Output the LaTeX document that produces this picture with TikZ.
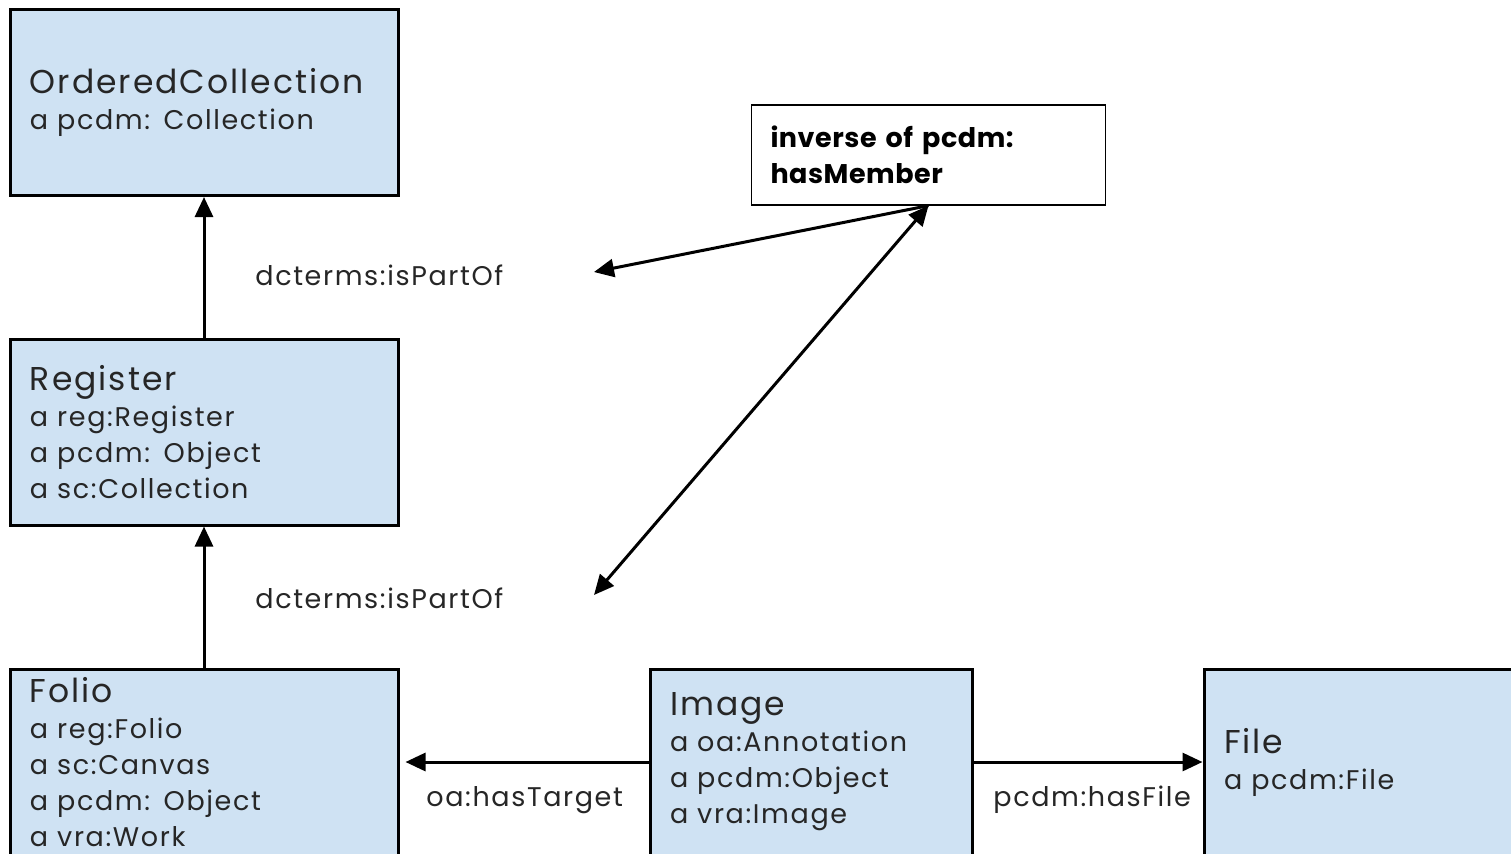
\documentclass[tikz,border=0pt]{standalone}
\usepackage{fontspec}
\setmainfont{Poppins}[LetterSpace=6, BoldFeatures={LetterSpace=2}]
\usepackage{xcolor}
\usepackage{tikz}
\usetikzlibrary{positioning}
\usetikzlibrary{arrows.meta}
\definecolor{boxblue}{HTML}{CFE2F3}
\definecolor{inkgray}{HTML}{262626}
\newcommand{\boxtitle}{\fontsize{16.5}{18}\selectfont}
\tikzset{
  classbox/.style={draw=black, line width=1.5pt, fill=boxblue, text=inkgray,
    align=left, inner xsep=10pt, minimum height=93pt,
    font=\fontsize{13.5}{18}\selectfont},
  notebox/.style={draw=black, line width=0.6pt, fill=white, text=black,
    align=left, inner xsep=9.5pt, text width=158pt, minimum height=50pt,
    font=\fontsize{13.5}{18}\selectfont\bfseries},
  edgelabel/.style={anchor=west, text=inkgray, inner sep=0pt,
    font=\fontsize{13.5}{18}\selectfont},
  arrowline/.style={line width=1.5pt, -{Triangle[length=10pt,width=9pt]}},
  bothline/.style={line width=1.5pt, {Triangle[length=10pt,width=9pt]}-{Triangle[length=10pt,width=9pt]}}
}
\begin{document}
\begin{tikzpicture}[x=0.5pt,y=-0.5pt]
        \clip (0,0) rectangle (1511,853);
        \fill[white] (0,0) rectangle (1511,853);

        % Left column (collection, register, folio)
        \node[classbox, text width=174pt] (coll) at (204,102.5) {{\boxtitle OrderedCollection}\\ a pcdm: Collection};
        \node[classbox, text width=174pt] (reg) at (204,432) {{\boxtitle Register}\\ a reg:Register\\ a pcdm: Object\\ a sc:Collection};
        \node[classbox, text width=174pt] (folio) at (204,762) {{\boxtitle Folio}\\ a reg:Folio\\ a sc:Canvas\\ a pcdm: Object\\ a vra:Work};

        % Bottom row (image, file)
        \node[classbox, text width=141pt] (img) at (811,762) {{\boxtitle Image}\\ a oa:Annotation\\ a pcdm:Object\\ a vra:Image};
        \node[classbox, text width=170pt] (file) at (1394,762) {{\boxtitle File}\\ a pcdm:File};

        % Note box
        \node[notebox] (inv) at (928.5,155) {inverse of pcdm:\\ hasMember};

        \draw[arrowline] (reg.north) -- (coll.south);
        \draw[arrowline] (folio.north) -- (reg.south);
        \draw[arrowline, shorten >=3pt] (img.west) -- (folio.east);
        \draw[arrowline] (img.east) -- (file.west);

        % Arrows from the note
        \coordinate (upper) at (594,272);
        \coordinate (lower) at (594,595);
        \draw[arrowline] (inv.south) -- (upper);
        \draw[bothline] (lower) -- (inv.south);

        \node[edgelabel] (part1) at (255,275) {dcterms:isPartOf};
        \node[edgelabel] (part2) at (255,598) {dcterms:isPartOf};
        \node[edgelabel] (target) at (426,800) {oa:hasTarget};
        \node[edgelabel] (hasfile) at (993,800) {pcdm:hasFile};
    \end{tikzpicture}
\end{document}
